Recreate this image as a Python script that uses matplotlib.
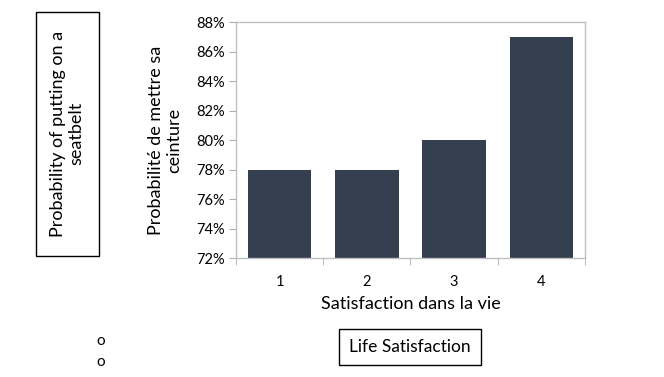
import matplotlib.pyplot as plt
from matplotlib.ticker import FuncFormatter

categories = ['1', '2', '3', '4']
values = [78, 78, 80, 87]
y_ticks = [72, 74, 76, 78, 80, 82, 84, 86, 88]

plt.rcParams['font.family'] = ['Lato', 'DejaVu Sans']

fig = plt.figure(figsize=(6.64, 3.77), dpi=100)
ax = fig.add_axes([0.3554, 0.3156, 0.5256, 0.626])

x = range(len(categories))
ax.bar(x, values, width=0.73, color='#343f50', zorder=2)
ax.set_xlim(-0.5, len(categories) - 0.5)
ax.set_ylim(72, 88)
ax.set_yticks(y_ticks)
ax.yaxis.set_major_formatter(FuncFormatter(lambda v, p: '%d%%' % v))
ax.set_xticks(list(x))
ax.set_xticklabels(categories)
ax.set_xticks([i - 0.5 for i in range(len(categories) + 1)], minor=True)
ax.tick_params(axis='x', which='major', length=0, pad=12, labelsize=10.5)
ax.tick_params(axis='x', which='minor', length=5, color='#b0b0b0', direction='out')
ax.tick_params(axis='y', length=5, color='#b0b0b0', labelsize=10.5, pad=3)
for s in ax.spines.values():
    s.set_color('#c0c0c0')
    s.set_linewidth(1)

ax.set_xlabel('Satisfaction dans la vie', fontsize=13, labelpad=5)
ax.set_ylabel('Probabilité de mettre sa\nceinture', fontsize=13, labelpad=10)

# annotation boxes drawn around the chart
fig.text(0.1015, 0.645, 'Probability of putting on a\nseatbelt', rotation=90,
         fontsize=13, ha='center', va='center', multialignment='center')
fig.patches.append(plt.Rectangle((0.054, 0.321), 0.095, 0.647, transform=fig.transFigure,
                                 fill=False, edgecolor='black', linewidth=1))

fig.text(0.6175, 0.0795, 'Life Satisfaction', fontsize=12.5, ha='center', va='center',
         bbox=dict(boxstyle='square,pad=0.6', facecolor='white', edgecolor='black', linewidth=1))

fig.text(0.151, 0.095, 'o', fontsize=11, ha='center', va='center')
fig.text(0.151, 0.04, 'o', fontsize=11, ha='center', va='center')

fig.savefig('out.png', dpi=100)
